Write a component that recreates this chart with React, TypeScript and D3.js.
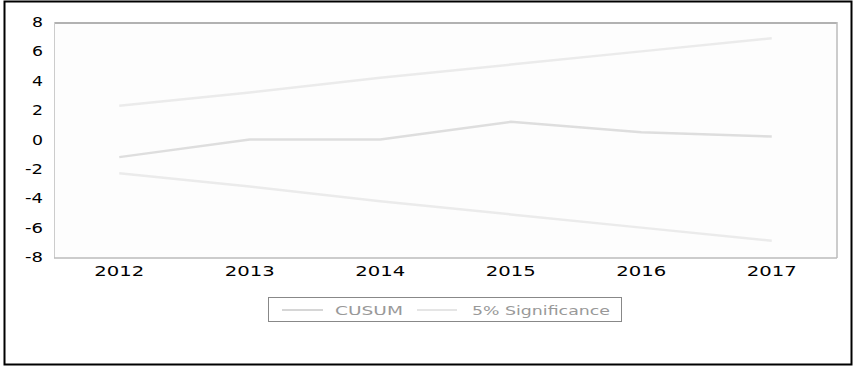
import React from "react";
import * as d3 from "d3";

const years = [2012, 2013, 2014, 2015, 2016, 2017];
const cusum = [-1.2, 0.0, 0.0, 1.2, 0.5, 0.2];
const upper5 = [2.3, 3.2, 4.2, 5.1, 6.0, 6.9];
const lower5 = [-2.3, -3.2, -4.2, -5.1, -6.0, -6.9];
const yTicks = [8, 6, 4, 2, 0, -2, -4, -6, -8];

const W = 854, H = 367;
const L = 54, R = 837, T = 22, B = 257;

export default function App() {
  const x = d3.scalePoint<number>().domain(years).range([L, R]).padding(0.5);
  const y = d3.scaleLinear().domain([-8, 8]).range([B, T]);
  const line = d3.line<number>().x((_, i) => x(years[i])!).y((d) => y(d));
  const font = "'DejaVu Sans', Verdana, sans-serif";
  return (
    <svg width={W} height={H} style={{ position: "absolute", left: 0, top: 0 }}>
      <rect x={0} y={0} width={W} height={H} fill="#fff" />
      <rect x={4.5} y={1.5} width={847} height={363} fill="none" stroke="#000" strokeWidth={2} />
      <rect x={L} y={T} width={R - L} height={B - T} fill="#fdfdfd" stroke="none" />
      <line x1={L} x2={R} y1={T + 1} y2={T + 1} stroke="#999" strokeWidth={1.5} />
      <line x1={L + 0.5} x2={L + 0.5} y1={T} y2={B + 1} stroke="#ccc" strokeWidth={1} />
      <line x1={R} x2={R} y1={T} y2={B + 1} stroke="#bbb" strokeWidth={1.5} />
      <line x1={L} x2={R} y1={B + 1} y2={B + 1} stroke="#bbb" strokeWidth={1.5} />
      <path d={line(upper5) || ""} fill="none" stroke="#ebebeb" strokeWidth={2.5} />
      <path d={line(lower5) || ""} fill="none" stroke="#ebebeb" strokeWidth={2.5} />
      <path d={line(cusum) || ""} fill="none" stroke="#dedede" strokeWidth={2.5} />
      {yTicks.map((t) => (
        <text key={t} x={43} y={y(t)} dy="0.35em" textAnchor="end" fontFamily={font} fontSize={14.5}
          textLength={t < 0 ? 18 : 11} lengthAdjust="spacingAndGlyphs" fill="#000">
          {t}
        </text>
      ))}
      {years.map((yr) => (
        <text key={yr} x={x(yr)! - 25} y={276} fontFamily={font} fontSize={14.5}
          textLength={50} lengthAdjust="spacingAndGlyphs" fill="#000">
          {yr}
        </text>
      ))}
      <rect x={268.5} y={297.5} width={353} height={24} fill="#fff" stroke="#888" strokeWidth={1} />
      <line x1={282} x2={323} y1={310} y2={310} stroke="#c8c8c8" strokeWidth={1.5} />
      <text x={335} y={314.5} fontFamily={font} fontSize={12} fill="#999" textLength={68} lengthAdjust="spacingAndGlyphs">CUSUM</text>
      <line x1={417} x2={457} y1={310} y2={310} stroke="#dcdcdc" strokeWidth={1.5} />
      <text x={472} y={314.5} fontFamily={font} fontSize={12} fill="#999" textLength={138} lengthAdjust="spacingAndGlyphs">5% Significance</text>
    </svg>
  );
}
